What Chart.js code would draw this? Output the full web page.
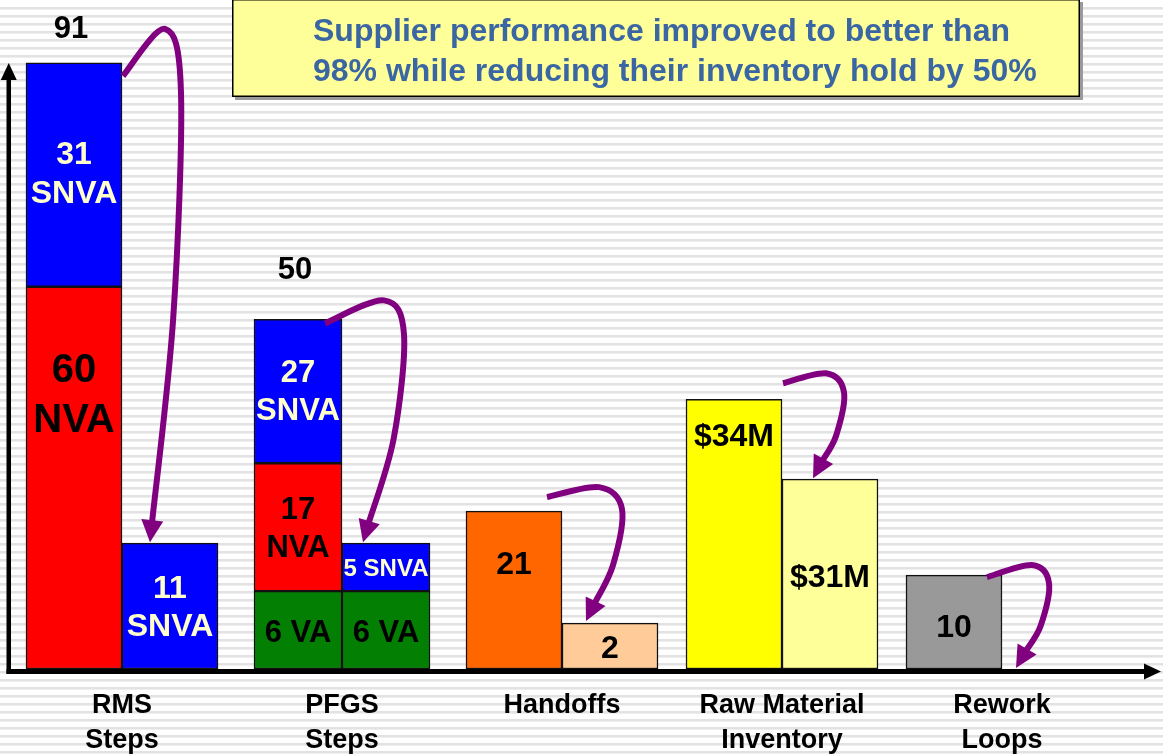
<!DOCTYPE html>
<html>
<head>
<meta charset="utf-8">
<script src="https://cdn.jsdelivr.net/npm/chart.js@4.4.1/dist/chart.umd.min.js"></script>
<style>
  html, body { margin: 0; padding: 0; background: #ffffff; }
  #wrap { width: 1163px; height: 754px; position: relative; }
</style>
</head>
<body>
<div id="wrap"><canvas id="c" width="1163" height="754"></canvas></div>
<script>
// ================= DATA =================
const categories = [['RMS', 'Steps'], ['PFGS', 'Steps'], 'Handoffs', ['Raw Material', 'Inventory'], ['Rework', 'Loops']];

// Bar lengths as drawn in the picture (its own unmarked vertical scale, 0-100)
const beforeMain     = [57.4, null, 23.7, 40.5, 14.1];
const beforeUpper    = [33.6, null, null, null, null];
const afterMain      = [18.9, null, 6.9, 28.5, null];
const pfgsBeforeVA   = [null, 11.7, null, null, null];
const pfgsBeforeNVA  = [null, 19.2, null, null, null];
const pfgsBeforeSNVA = [null, 21.6, null, null, null];
const pfgsAfterVA    = [null, 11.7, null, null, null];
const pfgsAfterSNVA  = [null, 7.2, null, null, null];

// Values printed on the bars
const beforeMainText     = [['60', 'NVA'], null, ['21'], ['$34M'], ['10']];
const beforeUpperText    = [['31', 'SNVA'], null, null, null, null];
const afterMainText      = [['11', 'SNVA'], null, ['2'], ['$31M'], null];
const pfgsBeforeVAText   = [null, ['6 VA'], null, null, null];
const pfgsBeforeNVAText  = [null, ['17', 'NVA'], null, null, null];
const pfgsBeforeSNVAText = [null, ['27', 'SNVA'], null, null, null];
const pfgsAfterVAText    = [null, ['6 VA'], null, null, null];
const pfgsAfterSNVAText  = [null, ['5 SNVA'], null, null, null];
const totalText          = ['91', '50', null, null, null];

const headline = ['Supplier performance improved to better than', '98% while reducing their inventory hold by 50%'];

// ================= STYLE =================
const FONT = "'Liberation Sans', Arial, Helvetica, sans-serif";
const RED = '#ff0000', BLUE = '#0000ff', GREEN = '#037f03';
const LIGHT_TXT = '#ffffcc';
const beforeMainColors = [RED, 'rgba(0,0,0,0)', '#ff6600', '#ffff00', '#999999'];
const afterMainColors  = [BLUE, 'rgba(0,0,0,0)', '#ffcc99', '#ffff99', 'rgba(0,0,0,0)'];

// label placement inside a bar: fraction from bar top to bar base for the text block middle
const styles = {
  beforeMain:  { color: '#000', size: [40, 32, 32, 32, 32], gap: [50, 38, 38, 38, 38], pos: [0.286, 0.5, 0.34, 0.14, 0.56] },
  beforeUpper: { color: LIGHT_TXT, size: 32, gap: 39, pos: 0.5 },
  afterMain:   { color: [LIGHT_TXT, '#000', '#000', '#000', '#000'], size: 32, gap: 38, pos: [0.52, 0.5, 0.565, 0.52, 0.5] },
  pBVA:   { color: '#000', size: 31, gap: 38, pos: 0.54 },
  pBNVA:  { color: '#000', size: 31, gap: 38, pos: 0.52 },
  pBSNVA: { color: LIGHT_TXT, size: 31, gap: 38, pos: 0.507 },
  pAVA:   { color: '#000', size: 31, gap: 38, pos: 0.54 },
  pASNVA: { color: LIGHT_TXT, size: 24, gap: 30, pos: 0.54 }
};
const totalRise = [33, 49, 0, 0, 0];

// curved "improvement" arrows, offsets relative to the before/after bar boundary
const arrowShapes = [
  { s: [1, 13],   p: [43, -34], r: [59, 30],  t: [28, -1] },
  { s: [-17, 4],  p: [42, -19], r: [62, 15],  t: [21, -1] },
  { s: [-15, -14], p: [37, -24], r: [60, -2], t: [24, -2] },
  { s: [1, -16],  p: [44, -26], r: [62, -7],  t: [31, -1] },
  { s: [-15, 2],  p: [30, -10], r: [47, 8],   t: [14, -1] }
];

function ds(data, stack, colors, thickness, text, style) {
  return {
    data, stack,
    backgroundColor: colors,
    borderColor: '#111111',
    borderWidth: 1.5,
    borderSkipped: false,
    barThickness: thickness,
    valueText: text,
    textStyle: style
  };
}

const datasets = [
  ds(pfgsBeforeVA,   'before', GREEN, 88, pfgsBeforeVAText, styles.pBVA),
  ds(pfgsBeforeNVA,  'before', RED,   88, pfgsBeforeNVAText, styles.pBNVA),
  ds(pfgsBeforeSNVA, 'before', BLUE,  88, pfgsBeforeSNVAText, styles.pBSNVA),
  ds(beforeMain,     'before', beforeMainColors, 96, beforeMainText, styles.beforeMain),
  ds(beforeUpper,    'before', BLUE,  96, beforeUpperText, styles.beforeUpper),
  ds(pfgsAfterVA,    'after',  GREEN, 88, pfgsAfterVAText, styles.pAVA),
  ds(pfgsAfterSNVA,  'after',  BLUE,  88, pfgsAfterSNVAText, styles.pASNVA),
  ds(afterMain,      'after',  afterMainColors, 96, afterMainText, styles.afterMain)
];

// ================= PLUGINS =================
const stripes = {
  id: 'stripes',
  beforeDraw(chart) {
    const { ctx, width, height } = chart;
    ctx.save();
    ctx.fillStyle = '#ffffff';
    ctx.fillRect(0, 0, width, height);
    for (let y = 7; y < height; y += 8) {
      ctx.fillStyle = '#e2e2e2';
      ctx.fillRect(0, y, width, 2);
      ctx.fillStyle = '#efefef';
      ctx.fillRect(0, y + 2, width, 1);
    }
    ctx.restore();
  }
};

function stackTop(chart, idx, stack) {
  let best = null;
  chart.data.datasets.forEach((d, di) => {
    if (d.stack !== stack) return;
    const v = d.data[idx];
    if (v === null || v === undefined) return;
    const el = chart.getDatasetMeta(di).data[idx];
    if (!best || el.y < best.y) best = el;
  });
  return best;
}

const axesArrows = {
  id: 'axesArrows',
  afterDatasetsDraw(chart) {
    const { ctx, chartArea } = chart;
    const x0 = chartArea.left - 5.5, yb = chartArea.bottom;
    ctx.save();
    ctx.fillStyle = '#000';
    const xTip = chartArea.right + 49;
    ctx.fillRect(x0, yb, xTip - 17 - x0, 5);
    ctx.beginPath();
    ctx.moveTo(xTip, yb + 2.5);
    ctx.lineTo(xTip - 17, yb + 2.5 - 8);
    ctx.lineTo(xTip - 17, yb + 2.5 + 8);
    ctx.closePath(); ctx.fill();
    const yTip = chartArea.top + 60;
    ctx.fillRect(x0, yTip + 16, 4.5, yb + 5 - (yTip + 16));
    ctx.beginPath();
    ctx.moveTo(x0 + 2.25, yTip);
    ctx.lineTo(x0 + 2.25 - 8, yTip + 17);
    ctx.lineTo(x0 + 2.25 + 8, yTip + 17);
    ctx.closePath(); ctx.fill();
    ctx.restore();
  }
};

const valueLabels = {
  id: 'valueLabels',
  afterDatasetsDraw(chart) {
    const ctx = chart.ctx;
    ctx.save();
    ctx.textAlign = 'center';
    ctx.textBaseline = 'middle';
    chart.data.datasets.forEach((d, di) => {
      if (!d.valueText) return;
      const meta = chart.getDatasetMeta(di);
      const st = d.textStyle;
      d.valueText.forEach((lines, i) => {
        if (!lines) return;
        const pick = v => Array.isArray(v) ? v[i] : v;
        const el = meta.data[i];
        const mid = el.y + pick(st.pos) * (el.base - el.y);
        const gap = pick(st.gap);
        ctx.font = `bold ${pick(st.size)}px ${FONT}`;
        ctx.fillStyle = pick(st.color);
        lines.forEach((t, k) => ctx.fillText(t, el.x, mid + (k - (lines.length - 1) / 2) * gap));
      });
    });
    ctx.font = `bold 31px ${FONT}`;
    ctx.fillStyle = '#000';
    totalText.forEach((t, i) => {
      if (!t) return;
      const top = stackTop(chart, i, 'before');
      ctx.fillText(t, top.x - 3, top.y - totalRise[i]);
    });
    ctx.restore();
  }
};

const curvedArrows = {
  id: 'curvedArrows',
  afterDatasetsDraw(chart) {
    const ctx = chart.ctx;
    ctx.save();
    ctx.strokeStyle = '#800080';
    ctx.fillStyle = '#800080';
    ctx.lineWidth = 6;
    ctx.lineJoin = 'round';
    arrowShapes.forEach((sh, i) => {
      const b = stackTop(chart, i, 'before');
      if (!b) return;
      const a = stackTop(chart, i, 'after');
      const d = b.x + b.width / 2;
      const T0 = b.y;
      const A = a ? a.y : b.base;
      const S = [d + sh.s[0], T0 + sh.s[1]];
      const P = [d + sh.p[0], T0 + sh.p[1]];
      const R = [d + sh.r[0], T0 + sh.r[1]];
      const T = [d + sh.t[0], A + sh.t[1]];
      const M = [R[0] - (R[0] - T[0]) * 0.25, (R[1] + T[1]) / 2];
      let dx = T[0] - M[0], dy = T[1] - M[1];
      const len = Math.hypot(dx, dy); dx /= len; dy /= len;
      const headLen = 22, headHalf = 11;
      const Tb = [T[0] - dx * headLen, T[1] - dy * headLen];
      const pts = [S, P, R, M, [Tb[0] + dx * 2, Tb[1] + dy * 2]];
      ctx.beginPath();
      ctx.moveTo(pts[0][0], pts[0][1]);
      for (let k = 0; k < pts.length - 1; k++) {
        const p0 = pts[Math.max(k - 1, 0)], p1 = pts[k], p2 = pts[k + 1], p3 = pts[Math.min(k + 2, pts.length - 1)];
        const c1 = [p1[0] + (p2[0] - p0[0]) / 6, p1[1] + (p2[1] - p0[1]) / 6];
        const c2 = [p2[0] - (p3[0] - p1[0]) / 6, p2[1] - (p3[1] - p1[1]) / 6];
        ctx.bezierCurveTo(c1[0], c1[1], c2[0], c2[1], p2[0], p2[1]);
      }
      ctx.stroke();
      ctx.beginPath();
      ctx.moveTo(T[0], T[1]);
      ctx.lineTo(Tb[0] - dy * headHalf, Tb[1] + dx * headHalf);
      ctx.lineTo(Tb[0] + dy * headHalf, Tb[1] - dx * headHalf);
      ctx.closePath();
      ctx.fill();
    });
    ctx.restore();
  }
};

const headlineBox = {
  id: 'headlineBox',
  afterDraw(chart) {
    const ctx = chart.ctx;
    const bx = 232, by = -1, bw = 848, bh = 98;
    ctx.save();
    ctx.fillStyle = '#9a9a9a';
    ctx.fillRect(bx + 3, by + 3, bw, bh);
    ctx.fillStyle = '#ffff99';
    ctx.fillRect(bx, by, bw, bh);
    ctx.strokeStyle = '#000';
    ctx.lineWidth = 1.5;
    ctx.strokeRect(bx + 0.75, by + 0.75, bw - 1.5, bh - 1.5);
    ctx.fillStyle = '#3a66a3';
    ctx.font = `bold 32px ${FONT}`;
    ctx.textAlign = 'left';
    ctx.textBaseline = 'alphabetic';
    ctx.fillText(headline[0], 313, 41);
    ctx.fillText(headline[1], 313, 81);
    ctx.restore();
  }
};

// ================= CHART =================
new Chart(document.getElementById('c'), {
  type: 'bar',
  data: { labels: categories, datasets },
  options: {
    responsive: false,
    animation: false,
    devicePixelRatio: 1,
    layout: { padding: { left: 12, right: 51, top: 3, bottom: 0 } },
    plugins: { legend: { display: false }, tooltip: { enabled: false } },
    scales: {
      x: {
        type: 'category',
        offset: true,
        grid: { display: false, drawTicks: false },
        border: { display: false },
        ticks: {
          color: '#000',
          font: { family: FONT, size: 27, weight: 'bold', lineHeight: 35 / 27 },
          padding: 19,
          autoSkip: false,
          maxRotation: 0,
          minRotation: 0
        },
        afterFit: (scale) => { scale.height = 85; }
      },
      y: { display: false, stacked: true, min: 0, max: 100 }
    }
  },
  plugins: [stripes, axesArrows, valueLabels, curvedArrows, headlineBox]
});
</script>
</body>
</html>
